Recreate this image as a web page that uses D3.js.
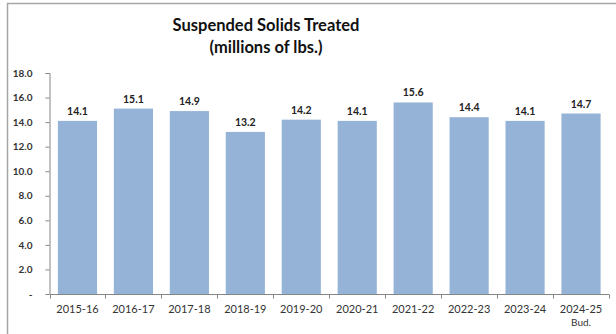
<!DOCTYPE html>
<html>
<head>
<meta charset="utf-8">
<script src="https://cdn.jsdelivr.net/npm/d3@7"></script>
<style>
  html, body { margin: 0; padding: 0; background: #fff; }
  svg { display: block; }
</style>
</head>
<body>
<script>
// Annual suspended solids treated, millions of lbs.
const categories = ["2015-16", "2016-17", "2017-18", "2018-19", "2019-20",
                    "2020-21", "2021-22", "2022-23", "2023-24", "2024-25"];
const subLabels  = ["", "", "", "", "", "", "", "", "", "Bud."];
const values     = [14.1, 15.1, 14.9, 13.2, 14.2, 14.1, 15.6, 14.4, 14.1, 14.7];
const yTicks     = [0, 2, 4, 6, 8, 10, 12, 14, 16, 18];
const titleLines = ["Suspended Solids Treated", "(millions of lbs.)"];

const W = 616, H = 334;
const font = "Lato, 'Open Sans', sans-serif";

const svg = d3.select("body").append("svg")
  .attr("width", W).attr("height", H);

// chart frame
svg.append("path")
  .attr("d", `M7.5,${H} V3.5 H${W}`)
  .attr("fill", "none")
  .attr("stroke", "#a6a6a6")
  .attr("stroke-width", 1.5);

// title
svg.append("g").selectAll("text").data(titleLines).join("text")
  .attr("x", 266)
  .attr("y", (d, i) => 31 + i * 22)
  .attr("text-anchor", "middle")
  .attr("font-family", font)
  .attr("font-weight", "bold")
  .attr("font-size", 16.5)
  .attr("fill", "#111")
  .text(d => d);

const x = d3.scaleBand()
  .domain(categories)
  .range([49.5, 609])
  .paddingInner(0.3)
  .paddingOuter(0.15);

const y = d3.scaleLinear()
  .domain([0, 18])
  .range([294, 73]);

// bars
svg.append("g").selectAll("rect").data(values).join("rect")
  .attr("x", (d, i) => x(categories[i]))
  .attr("y", d => y(d))
  .attr("width", x.bandwidth())
  .attr("height", d => y(0) - y(d))
  .attr("fill", "#95b3d7");

// value labels
svg.append("g").selectAll("text").data(values).join("text")
  .attr("x", (d, i) => x(categories[i]) + x.bandwidth() / 2)
  .attr("y", d => y(d) - 6)
  .attr("text-anchor", "middle")
  .attr("font-family", font)
  .attr("font-weight", "bold")
  .attr("font-size", 10.5)
  .attr("fill", "#222")
  .text(d => d.toFixed(1));

// y axis
const yAxis = svg.append("g")
  .attr("transform", `translate(49.5,0)`)
  .call(d3.axisLeft(y)
    .tickValues(yTicks)
    .tickSize(4)
    .tickPadding(13)
    .tickFormat(d => d === 0 ? "-" : d.toFixed(1)));
yAxis.select(".domain").attr("stroke", "#868686").attr("d", `M-4,${y(18)}.5H0.5V${y(0)}`);
yAxis.selectAll(".tick line").attr("stroke", "#868686");
yAxis.selectAll("text")
  .attr("font-family", font)
  .attr("font-weight", "bold")
  .attr("font-size", 10)
  .attr("fill", "#333");

// x axis with ticks at category boundaries
const xAxisG = svg.append("g").attr("transform", `translate(0,${y(0) + 0.5})`);
xAxisG.append("line")
  .attr("x1", 49.5).attr("x2", 609)
  .attr("stroke", "#868686");
const step = x.step();
const bounds = d3.range(categories.length + 1).map(i => 49.5 + i * step);
xAxisG.selectAll("line.tk").data(bounds).join("line")
  .attr("class", "tk")
  .attr("x1", d => Math.round(d) + 0.5).attr("x2", d => Math.round(d) + 0.5)
  .attr("y1", 0).attr("y2", 4)
  .attr("stroke", "#868686");

const catG = svg.append("g");
catG.selectAll("text.cat").data(categories).join("text")
  .attr("class", "cat")
  .attr("x", d => x(d) + x.bandwidth() / 2)
  .attr("y", 313)
  .attr("text-anchor", "middle")
  .attr("font-family", font)
  .attr("font-size", 11)
  .attr("fill", "#333")
  .text(d => d);
catG.selectAll("text.sub").data(subLabels).join("text")
  .attr("class", "sub")
  .attr("x", (d, i) => x(categories[i]) + x.bandwidth() / 2)
  .attr("y", 326)
  .attr("text-anchor", "middle")
  .attr("font-family", font)
  .attr("font-size", 10)
  .attr("fill", "#333")
  .text(d => d);
</script>
</body>
</html>
